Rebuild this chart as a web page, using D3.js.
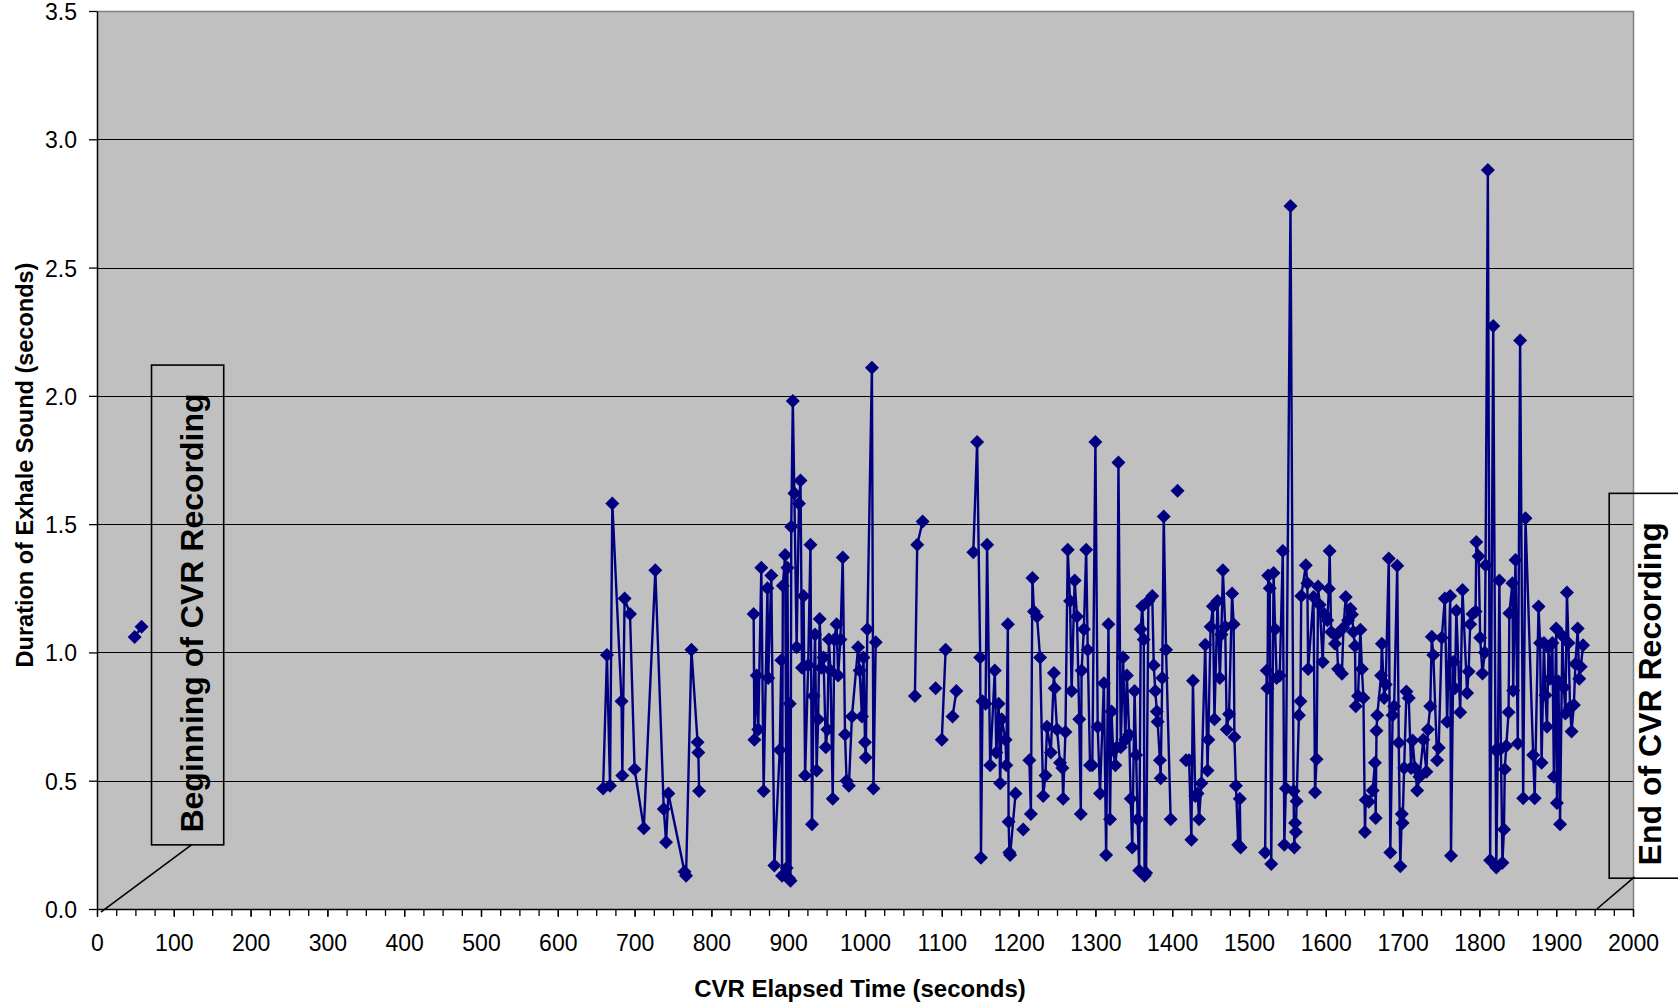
<!DOCTYPE html>
<html>
<head>
<meta charset="utf-8">
<script src="https://cdn.jsdelivr.net/npm/d3@7"></script>
<style>
  body { margin: 0; background: #ffffff; }
  svg { display: block; }
  text { font-family: "Liberation Sans", Arial, sans-serif; fill: #000; }
</style>
</head>
<body>
<script>
// chart size and plot area
var canvasX = 1678;
var canvasY = 1003;
var plotLeft = 97;
var plotRight = 1633;
var plotTop = 11;
var plotBottom = 909;

// tick values
var xTicks = d3.range(0, 2001, 100);
var xMinorTicks = d3.range(0, 2001, 25);
var yTicks = [0, 0.5, 1.0, 1.5, 2.0, 2.5, 3.0, 3.5];

// data: [CVR elapsed time (s), duration of exhale sound (s)], one array per connected run
var runStart = [[49, 1.06], [58, 1.10]];

var run660 = [[659, 0.47], [664, 0.99], [668, 0.48], [671, 1.58], [683, 0.81], [684, 0.52],
    [687, 1.21], [694, 1.15], [700, 0.545], [712, 0.315], [727, 1.32], [738, 0.39],
    [741, 0.26], [744, 0.45], [765, 0.145], [767, 0.13], [774, 1.01], [782, 0.65],
    [783, 0.61], [784, 0.46]];

var run855 = [[855, 1.15], [856, 0.66], [859, 0.91], [861, 0.70], [865, 1.33], [868, 0.46],
    [873, 1.25], [874, 0.90], [878, 1.30], [882, 0.17], [889, 0.62], [891, 0.97],
    [892, 0.13], [893, 1.26], [896, 1.38], [898, 0.16], [899, 1.33], [901, 0.12],
    [902, 0.80], [903, 0.11], [904, 1.49], [906, 1.98], [908, 1.62], [911, 1.02],
    [914, 1.58], [916, 1.67], [918, 0.94], [920, 1.22], [922, 0.52], [926, 0.95],
    [929, 1.42], [931, 0.33], [933, 0.83], [935, 1.07], [937, 0.54], [939, 0.74],
    [941, 1.13], [943, 0.94], [946, 0.98], [949, 0.63], [951, 0.70], [953, 1.05],
    [955, 0.93], [958, 0.43], [960, 1.05], [963, 1.11], [965, 0.91], [968, 1.05],
    [971, 1.37], [974, 0.68], [976, 0.50], [979, 0.48], [983, 0.75], [991, 1.02],
    [993, 0.93], [996, 0.75], [998, 0.98], [1000, 0.65], [1001, 0.59], [1003, 1.09],
    [1009, 2.11], [1011, 0.47], [1014, 1.04]];

var run1065 = [[1065, 0.83], [1068, 1.42], [1075, 1.51]];
var run1092 = [[1092, 0.86]];
var run1100 = [[1100, 0.66], [1105, 1.01]];
var run1114 = [[1114, 0.75], [1119, 0.85]];

var run1141 = [[1141, 1.39], [1146, 1.82], [1150, 0.98], [1151, 0.20], [1153, 0.81],
    [1157, 0.80], [1159, 1.42], [1163, 0.56], [1169, 0.93], [1171, 0.61], [1174, 0.80],
    [1176, 0.49], [1178, 0.74], [1183, 0.66], [1184, 0.56], [1186, 1.11], [1187, 0.34],
    [1188, 0.22], [1189, 0.21], [1196, 0.45]];

var run1206 = [[1206, 0.31]];

var run1214 = [[1214, 0.58], [1216, 0.37], [1218, 1.29], [1220, 1.16], [1224, 1.14],
    [1228, 0.98], [1232, 0.44], [1235, 0.52], [1237, 0.71], [1242, 0.61], [1246, 0.92],
    [1247, 0.86], [1250, 0.70], [1254, 0.57], [1257, 0.55], [1258, 0.43], [1261, 0.69],
    [1264, 1.40], [1267, 1.20], [1269, 0.85], [1273, 1.28], [1276, 1.14], [1279, 0.74],
    [1281, 0.37], [1282, 0.93], [1285, 1.09], [1288, 1.40], [1290, 1.01], [1293, 0.56],
    [1296, 0.56], [1300, 1.82], [1303, 0.71], [1306, 0.45], [1311, 0.88], [1314, 0.21],
    [1317, 1.11], [1319, 0.35], [1321, 0.77], [1323, 0.62], [1326, 0.56], [1328, 0.63],
    [1330, 1.74], [1333, 0.63], [1336, 0.98], [1339, 0.66], [1341, 0.91], [1344, 0.68],
    [1346, 0.43], [1348, 0.24], [1351, 0.85], [1353, 0.60], [1355, 0.35], [1357, 0.15],
    [1359, 1.09], [1361, 1.18], [1363, 1.05], [1364, 0.13], [1366, 0.14], [1369, 1.20],
    [1374, 1.22], [1376, 0.95], [1378, 0.85], [1380, 0.77], [1381, 0.73], [1384, 0.58],
    [1385, 0.51], [1387, 0.90], [1389, 1.53], [1392, 1.01], [1398, 0.35]];

var run1407 = [[1407, 1.63]];

var run1418 = [[1418, 0.58], [1422, 0.58], [1425, 0.27], [1427, 0.89], [1430, 0.44],
    [1433, 0.45], [1435, 0.35], [1438, 0.49], [1443, 1.03], [1446, 0.54], [1447, 0.66],
    [1450, 1.10], [1453, 1.18], [1455, 0.74], [1459, 1.20], [1462, 0.90], [1464, 1.07],
    [1466, 1.32], [1469, 1.10], [1471, 0.70], [1474, 0.76], [1478, 1.23], [1480, 1.11],
    [1481, 0.67], [1483, 0.48], [1486, 0.25], [1488, 0.43], [1489, 0.24]];

var run1521 = [[1521, 0.22], [1523, 0.93], [1524, 0.86], [1525, 1.30], [1527, 1.25],
    [1529, 0.175], [1532, 1.31], [1534, 1.09], [1536, 0.90], [1540, 0.91], [1544, 1.395],
    [1546, 0.25], [1548, 0.47], [1554, 2.74], [1558, 0.46], [1559, 0.24], [1560, 0.335],
    [1561, 0.30], [1562, 0.42], [1565, 0.755], [1567, 0.81], [1568, 1.22], [1574, 1.34],
    [1576, 1.27], [1577, 0.935], [1584, 1.216], [1586, 0.455], [1588, 0.584], [1590, 1.257],
    [1592, 1.186], [1596, 0.963], [1598, 1.15], [1602, 1.125], [1604, 1.248], [1605, 1.395],
    [1607, 1.08], [1612, 1.034], [1614, 1.07], [1616, 0.935], [1621, 0.917], [1623, 1.096],
    [1626, 1.216], [1629, 1.125], [1632, 1.17], [1634, 1.148], [1636, 1.08], [1638, 1.025],
    [1639, 0.79], [1642, 0.83], [1645, 1.088], [1647, 0.935], [1649, 0.822], [1651, 0.30],
    [1652, 0.425], [1656, 0.418], [1661, 0.462], [1664, 0.57], [1665, 0.355], [1666, 0.695],
    [1667, 0.755], [1672, 0.91], [1673, 1.034], [1676, 0.822], [1678, 0.875], [1682, 1.366],
    [1684, 0.22], [1687, 0.755], [1689, 0.79], [1693, 1.338], [1695, 0.648], [1697, 0.167],
    [1699, 0.37], [1700, 0.335], [1702, 0.55], [1705, 0.848], [1708, 0.822], [1711, 0.55],
    [1713, 0.657], [1716, 0.55], [1719, 0.462], [1722, 0.515], [1727, 0.66], [1731, 0.535],
    [1733, 0.70], [1736, 0.79], [1738, 1.061], [1740, 0.99], [1745, 0.58], [1747, 0.628],
    [1751, 1.057], [1755, 1.21], [1758, 0.73], [1762, 1.22], [1763, 0.208], [1766, 0.963],
    [1768, 0.86], [1770, 1.162], [1775, 0.767], [1778, 1.243], [1784, 0.842], [1786, 0.926],
    [1788, 1.11], [1791, 1.15], [1795, 1.16], [1796, 1.43], [1799, 1.375], [1801, 1.057],
    [1804, 0.918], [1807, 1.0], [1808, 1.34], [1811, 2.88], [1814, 0.19], [1818, 2.272],
    [1821, 0.62], [1822, 0.162], [1824, 0.62], [1826, 1.28], [1828, 0.625], [1830, 0.18],
    [1832, 0.31], [1833, 0.545], [1835, 0.635], [1838, 0.767], [1839, 1.153], [1843, 1.27],
    [1844, 0.852], [1847, 1.36], [1850, 0.645], [1853, 2.216], [1857, 0.432], [1860, 1.523],
    [1870, 0.60], [1872, 0.432], [1877, 1.179], [1879, 1.037], [1881, 0.57], [1884, 1.037],
    [1886, 0.833], [1888, 0.71], [1890, 1.02], [1892, 0.897], [1895, 1.037], [1897, 0.515],
    [1900, 1.093], [1901, 0.413], [1903, 0.887], [1905, 0.33], [1908, 1.065], [1910, 0.863],
    [1912, 0.762], [1914, 1.234], [1916, 1.037], [1918, 0.786], [1920, 0.692], [1923, 0.795],
    [1925, 0.955], [1928, 1.093], [1930, 0.897], [1932, 0.944], [1935, 1.028]];

var runs = [runStart, run660, run855, run1065, run1092, run1100, run1114, run1141,
    run1206, run1214, run1407, run1418, run1521];

// annotation labels, anchored in data units
var notes = [
    {text: "Beginning of CVR Recording", box: [71, 165, 2.12, 0.25], from: [123, 0.25], to: [5, -0.012], start: 0.298, base: 138},
    {text: "End of CVR Recording", box: [1969, 2065, 1.62, 0.12], from: [2002, 0.125], to: [1953, 0], start: 0.17, base: 2036}
];

window.onload = function() {

    var svg = d3.select("body")
                .append("svg")
                .attr("width", canvasX)
                .attr("height", canvasY);

    // scales
    var scaleX = d3.scaleLinear().domain([0, 2000]).range([plotLeft, plotRight]);
    var scaleY = d3.scaleLinear().domain([0, 3.5]).range([plotBottom, plotTop]);

    // plot background
    svg.append("rect")
       .attr("x", plotLeft)
       .attr("y", plotTop)
       .attr("width", plotRight - plotLeft)
       .attr("height", plotBottom - plotTop)
       .attr("fill", "#c0c0c0");

    // grid lines
    svg.selectAll(".grid")
       .data(yTicks.filter(function(d) { return d > 0 && d < 3.5; }))
       .enter()
       .append("line")
       .attr("x1", plotLeft)
       .attr("x2", plotRight)
       .attr("y1", function(d) { return Math.round(scaleY(d)) + 0.5; })
       .attr("y2", function(d) { return Math.round(scaleY(d)) + 0.5; })
       .attr("stroke", "#000")
       .attr("stroke-width", 1);

    // top and right border
    svg.append("path")
       .attr("d", "M" + plotLeft + "," + (plotTop + 0.5) + "H" + (plotRight + 0.5) + "V" + plotBottom)
       .attr("fill", "none")
       .attr("stroke", "#808080")
       .attr("stroke-width", 1.5);

    // minor ticks on x axis
    svg.append("g")
       .attr("transform", "translate(0," + plotBottom + ")")
       .call(d3.axisBottom(scaleX).tickValues(xMinorTicks).tickSize(7).tickSizeOuter(0).tickFormat(""))
       .call(function(g) { g.select(".domain").remove(); })
       .selectAll("line").attr("stroke-width", 1.3);

    // x axis
    var xAxis = svg.append("g")
       .attr("transform", "translate(0," + plotBottom + ")")
       .call(d3.axisBottom(scaleX).tickValues(xTicks).tickSize(8).tickSizeOuter(0).tickPadding(18)
               .tickFormat(d3.format("d")));
    xAxis.selectAll("text").style("font-size", "23px").style("font-family", "Liberation Sans, Arial, sans-serif");
    xAxis.selectAll("line").attr("stroke-width", 1.3);
    xAxis.select(".domain").attr("stroke-width", 1.5);

    // y axis
    var yAxis = svg.append("g")
       .attr("transform", "translate(" + plotLeft + ",0)")
       .call(d3.axisLeft(scaleY).tickValues(yTicks).tickSize(8).tickSizeOuter(0).tickPadding(12)
               .tickFormat(d3.format(".1f")));
    yAxis.selectAll("text")
         .attr("dy", "0.37em")
         .style("font-size", "23px")
         .style("font-family", "Liberation Sans, Arial, sans-serif");
    yAxis.selectAll("line").attr("stroke-width", 1.3);
    yAxis.select(".domain").attr("stroke-width", 1.5);

    // axis titles
    svg.append("text")
       .attr("x", (plotLeft + plotRight) / 2 - 5)
       .attr("y", 997)
       .attr("text-anchor", "middle")
       .style("font-size", "24px")
       .style("font-weight", "bold")
       .text("CVR Elapsed Time (seconds)");

    svg.append("text")
       .attr("transform", "translate(33," + ((plotTop + plotBottom) / 2 + 5) + ") rotate(-90)")
       .attr("text-anchor", "middle")
       .style("font-size", "23.5px")
       .style("font-weight", "bold")
       .text("Duration of Exhale Sound (seconds)");

    // the line, one path per run
    var line = d3.line()
                 .x(function(d) { return scaleX(d[0]); })
                 .y(function(d) { return scaleY(d[1]); });

    svg.selectAll(".run")
       .data(runs)
       .enter()
       .append("path")
       .attr("class", "run")
       .attr("d", line)
       .attr("fill", "none")
       .attr("stroke", "#000080")
       .attr("stroke-width", 2.4)
       .attr("stroke-linejoin", "round");

    // diamond markers
    var diamond = d3.symbol().type(d3.symbolSquare).size(98);
    svg.selectAll(".marker")
       .data(runs.flat())
       .enter()
       .append("path")
       .attr("class", "marker")
       .attr("d", diamond)
       .attr("transform", function(d) {
           return "translate(" + scaleX(d[0]) + "," + scaleY(d[1]) + ") rotate(45)";
       })
       .attr("fill", "#000080");

    // annotation boxes with leader lines
    notes.forEach(function(n) {
        var x0 = scaleX(n.box[0]), x1 = scaleX(n.box[1]);
        var y0 = scaleY(n.box[2]), y1 = scaleY(n.box[3]);
        svg.append("rect")
           .attr("x", x0).attr("y", y0)
           .attr("width", x1 - x0).attr("height", y1 - y0)
           .attr("fill", "none")
           .attr("stroke", "#000")
           .attr("stroke-width", 1.6);
        svg.append("line")
           .attr("x1", scaleX(n.from[0])).attr("y1", scaleY(n.from[1]))
           .attr("x2", scaleX(n.to[0])).attr("y2", scaleY(n.to[1]))
           .attr("stroke", "#000")
           .attr("stroke-width", 1.6);
        svg.append("text")
           .attr("transform", "translate(" + scaleX(n.base) + "," + scaleY(n.start) + ") rotate(-90)")
           .style("font-size", "32px")
           .style("font-weight", "bold")
           .text(n.text);
    });
};
</script>
</body>
</html>
